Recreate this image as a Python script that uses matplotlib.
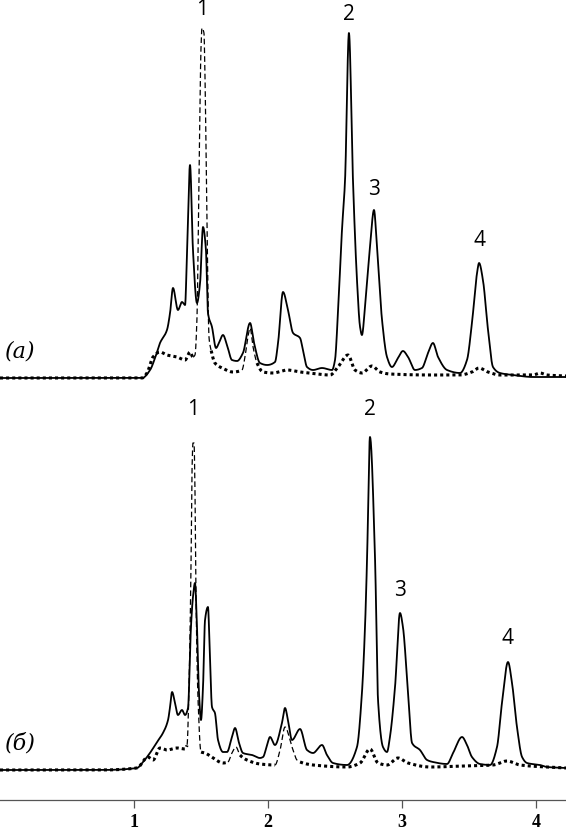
import numpy as np
import matplotlib
matplotlib.use("Agg")
import matplotlib.pyplot as plt

# ---------------- data (time, min ; detector signal, a.u.) ----------------
# Panel (а): sample chromatogram (solid)
sample_a_t = [0.00, 0.75, 1.06, 1.12, 1.157, 1.194, 1.246, 1.269, 1.291, 1.328, 1.358, 1.381,
              1.396, 1.418, 1.440, 1.470, 1.493, 1.515, 1.537, 1.552, 1.582, 1.612, 1.634,
              1.664, 1.694, 1.731, 1.769, 1.813, 1.866, 1.896, 1.940, 1.993, 2.052, 2.075,
              2.112, 2.149, 2.187, 2.239, 2.261, 2.291, 2.336, 2.403, 2.478, 2.500, 2.522,
              2.552, 2.575, 2.604, 2.634, 2.664, 2.687, 2.701, 2.724, 2.761, 2.791, 2.813,
              2.851, 2.888, 2.925, 2.970, 3.007, 3.045, 3.097, 3.149, 3.194, 3.231, 3.269,
              3.336, 3.433, 3.485, 3.522, 3.560, 3.575, 3.604, 3.642, 3.679, 3.731, 3.828,
              3.978, 4.224]
sample_a_s = [0, 0, 0, 8, 20, 35, 48, 65, 90, 68, 76, 73,
              128, 213, 128, 75, 95, 151, 128, 65, 51, 30, 35,
              43, 33, 18, 17, 25, 55, 35, 15, 13, 16, 35,
              86, 68, 45, 40, 28, 11, 8, 10, 8, 18, 65,
              148, 198, 345, 198, 98, 51, 43, 71, 131, 168, 131,
              58, 21, 11, 20, 27, 21, 8, 10, 25, 35, 21,
              8, 5, 18, 55, 105, 115, 98, 48, 11, 5, 3,
              1, 1]

# Panel (а): reference / blank chromatogram (dotted, dashed where marked)
ref_a_t = [0.00, 0.75, 1.06, 1.097, 1.142, 1.194, 1.246, 1.321, 1.381, 1.418, 1.440,
           1.455, 1.470, 1.485, 1.500, 1.507, 1.522, 1.530, 1.545, 1.560, 1.575,
           1.604, 1.657, 1.739, 1.806, 1.828, 1.851, 1.866, 1.890, 1.918, 1.963, 2.037,
           2.142, 2.239, 2.313, 2.463, 2.522, 2.597, 2.649, 2.701, 2.776, 2.836, 2.910,
           3.231, 3.433, 3.522, 3.575, 3.642, 3.731, 3.978, 4.030, 4.082, 4.224]
ref_a_s = [0, 0, 0, 5, 21, 26, 23, 21, 18, 26, 21,
           23, 60, 200, 330, 350, 345, 300, 150, 40, 28,
           15, 10, 6, 8, 21, 42, 50, 30, 15, 6, 5,
           8, 6, 5, 3, 11, 23, 8, 5, 12, 6, 4,
           3, 3, 6, 10, 6, 3, 3, 5, 3, 2]
dash_ranges_a = [(1.440, 1.575), (1.806, 1.918)]

# Panel (б): sample chromatogram (solid)
sample_b_t = [0.00, 0.75, 1.022, 1.067, 1.119, 1.172, 1.216, 1.254, 1.269, 1.284, 1.306,
              1.328, 1.358, 1.381, 1.403, 1.425, 1.440, 1.455, 1.470, 1.485, 1.500, 1.515,
              1.530, 1.552, 1.567, 1.582, 1.604, 1.627, 1.664, 1.694, 1.731, 1.754, 1.784,
              1.813, 1.881, 1.940, 1.963, 1.993, 2.015, 2.052, 2.104, 2.127, 2.149, 2.179,
              2.239, 2.291, 2.336, 2.403, 2.440, 2.485, 2.590, 2.664, 2.701, 2.724, 2.739,
              2.761, 2.799, 2.821, 2.858, 2.888, 2.910, 2.948, 2.985, 3.007, 3.045, 3.075,
              3.134, 3.187, 3.231, 3.336, 3.381, 3.448, 3.485, 3.522, 3.582, 3.657, 3.709,
              3.746, 3.791, 3.821, 3.858, 3.896, 3.933, 4.030, 4.082, 4.224]
sample_b_s = [0, 0, 2, 8, 17, 28, 37, 50, 63, 78, 67,
              55, 60, 55, 62, 143, 173, 187, 143, 77, 50, 83,
              150, 163, 110, 63, 57, 30, 18, 18, 33, 42, 27,
              17, 15, 12, 13, 25, 33, 25, 47, 62, 50, 30,
              41, 20, 17, 25, 15, 7, 5, 23, 77, 143, 210,
              333, 210, 70, 23, 18, 33, 83, 157, 143, 77, 27,
              20, 10, 8, 6, 17, 33, 25, 13, 6, 5, 23,
              67, 108, 87, 43, 13, 7, 5, 3, 2]

# Panel (б): reference / blank chromatogram (dotted, dashed where marked)
ref_b_t = [0.00, 0.75, 1.022, 1.104, 1.142, 1.194, 1.246, 1.321, 1.381, 1.396,
           1.410, 1.425, 1.433, 1.440, 1.448, 1.455, 1.463, 1.478, 1.500,
           1.530, 1.590, 1.664, 1.701, 1.731, 1.761, 1.791, 1.843, 1.940, 2.052,
           2.090, 2.127, 2.179, 2.216, 2.239, 2.336, 2.590, 2.687, 2.761, 2.821,
           2.888, 2.970, 3.045, 3.209, 3.455, 3.679, 3.784, 3.881, 4.224]
ref_b_s = [0, 0, 2, 13, 10, 22, 20, 22, 21, 25,
           80, 200, 300, 327, 327, 280, 170, 70, 18,
           17, 12, 7, 8, 17, 23, 15, 10, 6, 5,
           20, 43, 23, 10, 8, 5, 3, 7, 21, 7,
           5, 12, 7, 3, 4, 5, 9, 5, 2]
dash_ranges_b = [(1.396, 1.500), (1.701, 1.791), (2.052, 2.239)]

peak_labels = ["1", "2", "3", "4"]
# approximate retention times of labelled peaks (min) and which trace carries them
peaks_a = [("ref", 1.51), ("sample", 2.60), ("sample", 2.79), ("sample", 3.575)]
peaks_b = [("ref", 1.44), ("sample", 2.76), ("sample", 2.985), ("sample", 3.79)]

x_ticks = [1, 2, 3, 4]


def pchip(x, y, xn):
    """Monotone piecewise cubic Hermite interpolation (Fritsch-Carlson)."""
    x = np.asarray(x, float)
    y = np.asarray(y, float)
    h = np.diff(x)
    d = np.diff(y) / h
    m = np.zeros_like(y)
    m[0], m[-1] = d[0], d[-1]
    for k in range(1, len(x) - 1):
        if d[k - 1] * d[k] > 0:
            w1 = 2 * h[k] + h[k - 1]
            w2 = h[k] + 2 * h[k - 1]
            m[k] = (w1 + w2) / (w1 / d[k - 1] + w2 / d[k])
    idx = np.clip(np.searchsorted(x, xn) - 1, 0, len(x) - 2)
    hk = h[idx]
    t = (xn - x[idx]) / hk
    h00 = 2 * t**3 - 3 * t**2 + 1
    h10 = t**3 - 2 * t**2 + t
    h01 = -2 * t**3 + 3 * t**2
    h11 = t**3 - t**2
    return h00 * y[idx] + h10 * hk * m[idx] + h01 * y[idx + 1] + h11 * hk * m[idx + 1]


# ---------------- figure ----------------
W, H = 566, 833
fig = plt.figure(figsize=(W / 100, H / 100), dpi=100)
ax_a = fig.add_axes([0, 1 - 395 / H, 1, 395 / H])
ax_b = fig.add_axes([0, 1 - 800 / H, 1, 405 / H])

XMAX = 566 / 134.0


def draw_panel(ax, st, ss, rt, rs, dash_ranges, peaks, offsets, ylim, letter, letter_y):
    st, ss, rt, rs = map(np.asarray, (st, ss, rt, rs))
    grid = np.linspace(0, rt.max(), 4000)
    ref_s = pchip(rt, rs, grid)
    smp_s = pchip(st, ss, grid)
    in_dash = np.zeros_like(grid, dtype=bool)
    for lo, hi in dash_ranges:
        in_dash |= (grid >= lo) & (grid <= hi)
    dotted = np.where(in_dash, np.nan, ref_s)
    dashed = np.where(in_dash, ref_s, np.nan)
    ax.plot(grid, dotted, color="black", lw=2.2, linestyle=(0, (1, 1)),
            dash_capstyle="butt")
    ax.plot(grid, dashed, color="black", lw=0.9, linestyle=(0, (4.5, 2.5)))
    ax.plot(grid, smp_s, color="black", lw=1.3, solid_joinstyle="round")

    for lab, (which, tpk), off in zip(peak_labels, peaks, offsets):
        s = ref_s if which == "ref" else smp_s
        m = (grid > tpk - 0.03) & (grid < tpk + 0.03)
        i = np.argmax(np.where(m, s, -1))
        ax.annotate(lab, xy=(grid[i], s[i]), xytext=(0, off), textcoords="offset points",
                    ha="center", va="center", fontsize=15, family="Open Sans",
                    annotation_clip=False)

    ax.text(0.036, letter_y, letter, transform=ax.transAxes, fontsize=16,
            family="DejaVu Serif", style="italic", ha="center", va="center")
    ax.set_xlim(0, XMAX)
    ax.set_ylim(*ylim)


draw_panel(ax_a, sample_a_t, sample_a_s, ref_a_t, ref_a_s, dash_ranges_a, peaks_a,
           [13, 13, 14.5, 16.5], (-17, 378), "(а)", 0.11)
draw_panel(ax_b, sample_b_t, sample_b_s, ref_b_t, ref_b_s, dash_ranges_b, peaks_b,
           [24, 19.5, 16, 17], (-30, 375), "(б)", 0.14)

for ax in (ax_a, ax_b):
    for sp in ax.spines.values():
        sp.set_visible(False)
    ax.set_yticks([])
    ax.patch.set_alpha(0)

ax_a.set_xticks([])
ax_b.spines["bottom"].set_visible(True)
ax_b.spines["bottom"].set_color("#555555")
ax_b.spines["bottom"].set_linewidth(0.9)
ax_b.set_xticks(x_ticks)
ax_b.set_xticklabels([str(v) for v in x_ticks], family="Liberation Serif",
                     fontweight="bold", fontsize=13)
ax_b.tick_params(axis="x", direction="out", length=6, width=0.9, color="#555555", pad=4)

fig.savefig("out.png", dpi=100)
